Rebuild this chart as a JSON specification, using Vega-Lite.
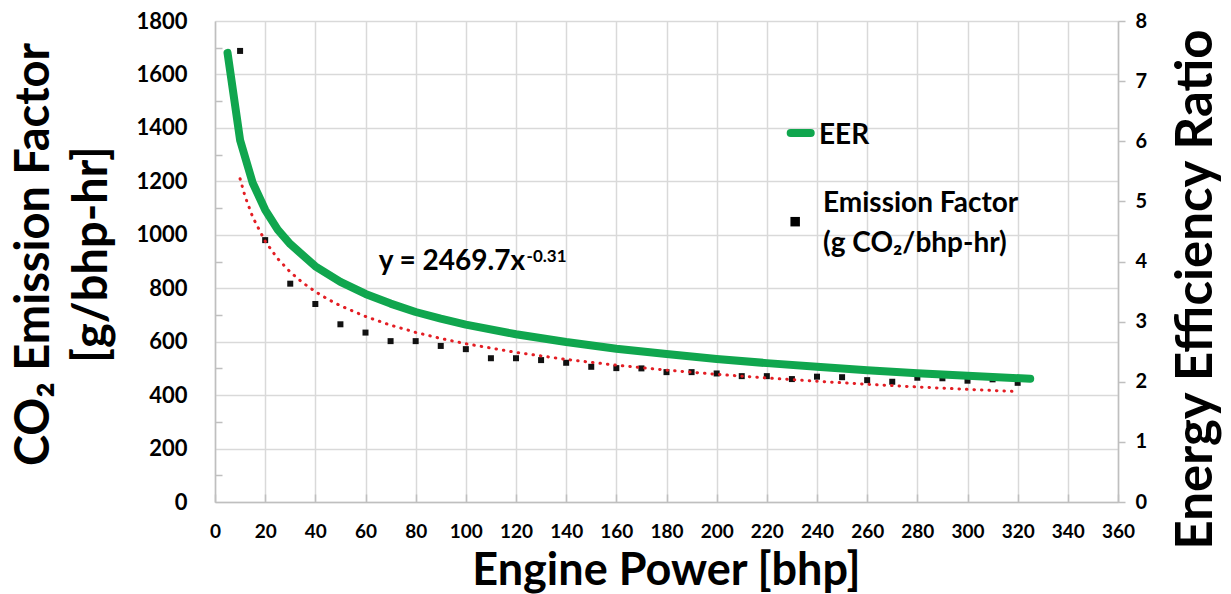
{
  "$schema": "https://vega.github.io/schema/vega-lite/v6.json",
  "width": 903,
  "height": 481,
  "autosize": {"type": "none"},
  "padding": {"left": 215, "top": 21, "right": 113, "bottom": 92},
  "background": "white",
  "config": {
    "view": {"stroke": null},
    "font": "Lato",
    "axis": {
      "domainColor": "#bfbfbf", "domainWidth": 1.5,
      "tickColor": "#bfbfbf", "tickWidth": 1.5,
      "gridColor": "#d9d9d9", "gridWidth": 1.5,
      "labelFont": "Lato", "labelFontWeight": "bold", "labelColor": "#000000",
      "titleFont": "Lato", "titleFontWeight": "bold", "titleColor": "#000000",
      "labelOverlap": false, "labelFlush": false, "labelBound": false
    }
  },
  "datasets": {
    "ef": [
      {"power": 10, "ef": 1688}, {"power": 20, "ef": 980}, {"power": 30, "ef": 817}, {"power": 40, "ef": 741},
      {"power": 50, "ef": 665}, {"power": 60, "ef": 634}, {"power": 70, "ef": 602}, {"power": 80, "ef": 602},
      {"power": 90, "ef": 584}, {"power": 100, "ef": 572}, {"power": 110, "ef": 538}, {"power": 120, "ef": 538},
      {"power": 130, "ef": 531}, {"power": 140, "ef": 521}, {"power": 150, "ef": 506}, {"power": 160, "ef": 501},
      {"power": 170, "ef": 500}, {"power": 180, "ef": 486}, {"power": 190, "ef": 486}, {"power": 200, "ef": 481},
      {"power": 210, "ef": 471}, {"power": 220, "ef": 471}, {"power": 230, "ef": 460}, {"power": 240, "ef": 469},
      {"power": 250, "ef": 467}, {"power": 260, "ef": 456}, {"power": 270, "ef": 450}, {"power": 280, "ef": 465},
      {"power": 290, "ef": 463}, {"power": 300, "ef": 454}, {"power": 310, "ef": 459}, {"power": 320, "ef": 446}
    ],
    "eer": [
      {"power": 5, "eer": 7.47}, {"power": 10, "eer": 6.02}, {"power": 15, "eer": 5.31}, {"power": 20, "eer": 4.86},
      {"power": 25, "eer": 4.53}, {"power": 30, "eer": 4.29}, {"power": 40, "eer": 3.92}, {"power": 50, "eer": 3.66},
      {"power": 60, "eer": 3.46}, {"power": 70, "eer": 3.30}, {"power": 80, "eer": 3.16}, {"power": 90, "eer": 3.05},
      {"power": 100, "eer": 2.95}, {"power": 120, "eer": 2.79}, {"power": 140, "eer": 2.66}, {"power": 160, "eer": 2.55},
      {"power": 180, "eer": 2.46}, {"power": 200, "eer": 2.38}, {"power": 220, "eer": 2.31}, {"power": 240, "eer": 2.25},
      {"power": 260, "eer": 2.19}, {"power": 280, "eer": 2.14}, {"power": 300, "eer": 2.10}, {"power": 325, "eer": 2.05}
    ],
    "trend": [
      {"power": 10, "fit": 1209.7}, {"power": 12, "fit": 1143.2}, {"power": 15, "fit": 1066.7}, {"power": 20, "fit": 975.8},
      {"power": 25, "fit": 910.6}, {"power": 30, "fit": 860.5}, {"power": 35, "fit": 820.4}, {"power": 40, "fit": 787.1},
      {"power": 45, "fit": 758.9}, {"power": 50, "fit": 734.5}, {"power": 60, "fit": 694.3}, {"power": 70, "fit": 661.7},
      {"power": 80, "fit": 634.9}, {"power": 90, "fit": 612.0}, {"power": 100, "fit": 592.4}, {"power": 120, "fit": 559.9},
      {"power": 140, "fit": 533.6}, {"power": 160, "fit": 512.0}, {"power": 180, "fit": 493.6}, {"power": 200, "fit": 477.9},
      {"power": 220, "fit": 464.1}, {"power": 240, "fit": 451.8}, {"power": 260, "fit": 440.6}, {"power": 280, "fit": 430.5},
      {"power": 300, "fit": 421.5}, {"power": 320, "fit": 413.2}
    ],
    "eqn": [{"x": 123.6, "y": 868, "label": "y = 2469.7x"}],
    "eqnsup": [{"x": 124.2, "y": 898, "label": "-0.31"}],
    "legline": [{"x": 229.5, "y": 1381}, {"x": 237.5, "y": 1381}],
    "legsq": [{"x": 231.3, "y": 1049}],
    "legtext": [
      {"x": 240.8, "y": 1340, "label": "EER"},
      {"x": 242.4, "y": 1085, "label": "Emission Factor"},
      {"x": 242.4, "y": 935, "label": "(g CO₂/bhp-hr)"}
    ]
  },
  "layer": [
    {
      "data": {"name": "ef"},
      "mark": {"type": "square", "size": 36, "color": "#111111", "opacity": 1},
      "encoding": {
        "x": {
          "field": "power", "type": "quantitative",
          "scale": {"domain": [0, 360], "nice": false},
          "axis": {
            "values": [0,10,20,30,40,50,60,70,80,90,100,110,120,130,140,150,160,170,180,190,200,210,220,230,240,250,260,270,280,290,300,310,320,330,340,350,360],
            "format": "d",
            "labelExpr": "datum.value % 20 === 0 ? datum.label : ''",
            "gridOpacity": {"condition": {"test": "datum.value % 20 === 0", "value": 1}, "value": 0},
            "tickSize": -8,
            "labelPadding": 28,
            "labelFontSize": 19,
            "title": "Engine Power [bhp]",
            "titleFontSize": 45,
            "titleX": 451,
            "titleY": 82,
            "titleAlign": "center",
            "titleBaseline": "alphabetic"
          }
        },
        "y": {
          "field": "ef", "type": "quantitative",
          "scale": {"domain": [0, 1800], "nice": false},
          "axis": {
            "values": [0,100,200,300,400,500,600,700,800,900,1000,1100,1200,1300,1400,1500,1600,1700,1800],
            "format": "d",
            "labelExpr": "datum.value % 200 === 0 ? datum.label : ''",
            "gridOpacity": {"condition": {"test": "datum.value % 200 === 0", "value": 1}, "value": 0},
            "tickSize": -7,
            "tickOpacity": {"condition": {"test": "datum.value % 200 !== 0", "value": 1}, "value": 0},
            "labelPadding": 35,
            "labelFontSize": 22,
            "title": ["CO₂ Emission Factor", "[g/bhp-hr]"],
            "titleFontSize": 47,
            "titleAngle": 270,
            "titleX": -167,
            "titleY": 233,
            "titleAlign": "center",
            "titleBaseline": "alphabetic",
            "titleLineHeight": 58
          }
        }
      }
    },
    {
      "data": {"name": "eer"},
      "mark": {"type": "line", "color": "#10a64e", "strokeWidth": 8, "strokeCap": "round", "strokeJoin": "round"},
      "encoding": {
        "x": {"field": "power", "type": "quantitative", "scale": {"domain": [0, 360], "nice": false}},
        "y": {
          "field": "eer", "type": "quantitative",
          "scale": {"domain": [0, 8], "nice": false},
          "axis": {
            "orient": "right",
            "values": [0,1,2,3,4,5,6,7,8],
            "grid": false,
            "tickSize": 7,
            "labelPadding": 10,
            "labelFontSize": 20,
            "title": "Energy Efficiency Ratio",
            "titleFontSize": 51,
            "titleAngle": 270,
            "titleX": 93,
            "titleY": 268,
            "titleAlign": "center",
            "titleBaseline": "alphabetic"
          }
        }
      }
    },
    {
      "layer": [
        {
          "data": {"name": "trend"},
          "mark": {"type": "line", "color": "#e31e24", "strokeWidth": 3, "strokeDash": [0.5, 7], "strokeCap": "round"},
          "encoding": {
            "x": {"field": "power", "type": "quantitative", "scale": {"domain": [0, 360], "nice": false}},
            "y": {"field": "fit", "type": "quantitative", "scale": {"domain": [0, 1800], "nice": false}, "axis": null}
          }
        },
        {
          "data": {"name": "eqn"},
          "mark": {"type": "text", "align": "right", "baseline": "alphabetic", "fontSize": 28, "fontWeight": "bold", "font": "Lato", "color": "#000000"},
          "encoding": {
            "x": {"field": "x", "type": "quantitative", "scale": {"domain": [0, 360], "nice": false}},
            "y": {"field": "y", "type": "quantitative", "scale": {"domain": [0, 1800], "nice": false}, "axis": null},
            "text": {"field": "label"}
          }
        },
        {
          "data": {"name": "eqnsup"},
          "mark": {"type": "text", "align": "left", "baseline": "alphabetic", "fontSize": 17, "fontWeight": "bold", "font": "Lato", "color": "#000000"},
          "encoding": {
            "x": {"field": "x", "type": "quantitative", "scale": {"domain": [0, 360], "nice": false}},
            "y": {"field": "y", "type": "quantitative", "scale": {"domain": [0, 1800], "nice": false}, "axis": null},
            "text": {"field": "label"}
          }
        },
        {
          "data": {"name": "legline"},
          "mark": {"type": "line", "color": "#10a64e", "strokeWidth": 8, "strokeCap": "round"},
          "encoding": {
            "x": {"field": "x", "type": "quantitative", "scale": {"domain": [0, 360], "nice": false}},
            "y": {"field": "y", "type": "quantitative", "scale": {"domain": [0, 1800], "nice": false}, "axis": null}
          }
        },
        {
          "data": {"name": "legsq"},
          "mark": {"type": "square", "size": 90, "color": "#000000", "opacity": 1},
          "encoding": {
            "x": {"field": "x", "type": "quantitative", "scale": {"domain": [0, 360], "nice": false}},
            "y": {"field": "y", "type": "quantitative", "scale": {"domain": [0, 1800], "nice": false}, "axis": null}
          }
        },
        {
          "data": {"name": "legtext"},
          "mark": {"type": "text", "align": "left", "baseline": "alphabetic", "fontSize": 28, "fontWeight": "bold", "font": "Lato", "color": "#000000"},
          "encoding": {
            "x": {"field": "x", "type": "quantitative", "scale": {"domain": [0, 360], "nice": false}},
            "y": {"field": "y", "type": "quantitative", "scale": {"domain": [0, 1800], "nice": false}, "axis": null},
            "text": {"field": "label"}
          }
        }
      ]
    }
  ],
  "resolve": {"scale": {"y": "independent"}}
}
